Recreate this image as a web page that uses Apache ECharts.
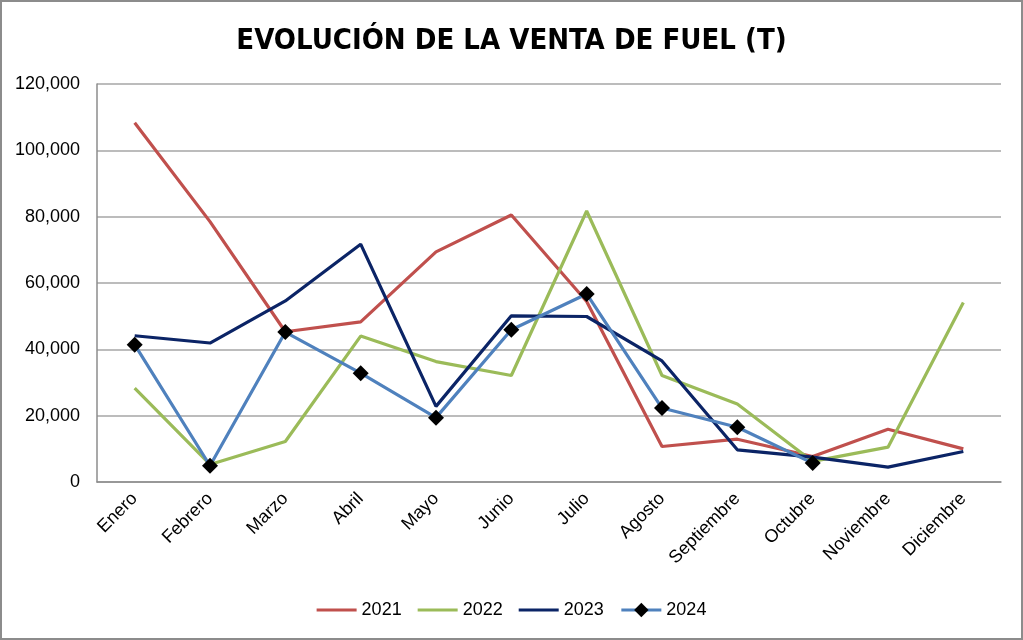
<!DOCTYPE html>
<html>
<head>
<meta charset="utf-8">
<script src="https://cdn.jsdelivr.net/npm/echarts@6/dist/echarts.min.js"></script>
<style>
html,body{margin:0;padding:0;background:#fff;}
#wrap{position:absolute;left:0;top:0;width:1019px;height:636px;border:2px solid #8c8c8c;}
#chart{width:1019px;height:636px;}
</style>
</head>
<body>
<div id="wrap"><div id="chart"></div></div>
<script>
const titleText = 'EVOLUCIÓN DE LA VENTA DE FUEL (T)';
const categories = ['Enero','Febrero','Marzo','Abril','Mayo','Junio','Julio','Agosto','Septiembre','Octubre','Noviembre','Diciembre'];
const seriesNames = ['2021','2022','2023','2024'];
const v2021 = [108300, 78500, 45300, 48300, 69400, 80500, 54400, 10700, 12900, 7700, 15900, 10000];
const v2022 = [28300, 5300, 12200, 44000, 36300, 32100, 81700, 32100, 23500, 6200, 10500, 54100];
const v2023 = [44100, 41900, 54600, 71700, 22800, 50100, 49900, 36500, 9700, 7500, 4500, 9200];
const v2024 = [41400, 4900, 45200, 32800, 19400, 45900, 56700, 22300, 16500, 5700, null, null];
const yTicks = [0, 20000, 40000, 60000, 80000, 100000, 120000];

const chart = echarts.init(document.getElementById('chart'));
const fmt = v => v.toLocaleString('en-US');
const baseFont = 'Liberation Sans, Arial, sans-serif';
const lineIcon = 'path://M0,0L0.01,0L0,0.01Z M0,7.5H40V10.5H0Z M0,18L0.01,18L0,17.99Z';
function lineSeries(name, data, color, marker) {
  return {
    name: name, type: 'line', data: data,
    symbol: marker ? 'diamond' : 'none',
    symbolSize: marker ? 16 : 0,
    showSymbol: !!marker,
    itemStyle: {color: marker ? '#000' : color},
    lineStyle: {color: color, width: 3.2},
    emphasis: {disabled: true},
    z: marker ? 5 : 3
  };
}
const colors = ['#C0504D', '#9BBB59', '#0B2466', '#4F81BD'];
chart.setOption({
  animation: false,
  title: {
    text: titleText, left: 'center', top: 20,
    textStyle: {fontFamily: 'DejaVu Sans Condensed, Liberation Sans Narrow, sans-serif', fontWeight: 'bold', fontSize: 29, color: '#000'}
  },
  legend: {
    bottom: 14, left: 'center', itemWidth: 40, itemHeight: 18, itemGap: 16,
    data: seriesNames.map((n, i) => i < 3 ? {name: n, icon: lineIcon, itemStyle: {color: colors[i]}} : {name: n, lineStyle: {width: 3.2}}),
    textStyle: {fontFamily: baseFont, fontSize: 18, color: '#000'}
  },
  grid: {left: 95, right: 20, top: 82, bottom: 156},
  xAxis: {
    type: 'category', data: categories, boundaryGap: true,
    axisLine: {lineStyle: {color: '#8c8c8c', width: 1.5}},
    axisTick: {show: false},
    axisLabel: {rotate: 45, margin: 14, fontSize: 18, color: '#000', fontFamily: baseFont, interval: 0}
  },
  yAxis: {
    type: 'value', min: 0, max: 120000, interval: 20000,
    axisLine: {show: true, lineStyle: {color: '#8c8c8c', width: 1.5}},
    axisTick: {show: false},
    splitLine: {lineStyle: {color: '#a6a6a6', width: 1.5}},
    axisLabel: {margin: 17, fontSize: 18, color: '#000', fontFamily: baseFont, formatter: v => fmt(v)}
  },
  series: seriesNames.map((n, i) => lineSeries(n, [v2021, v2022, v2023, v2024][i], colors[i], i === 3))
});
</script>
</body>
</html>
